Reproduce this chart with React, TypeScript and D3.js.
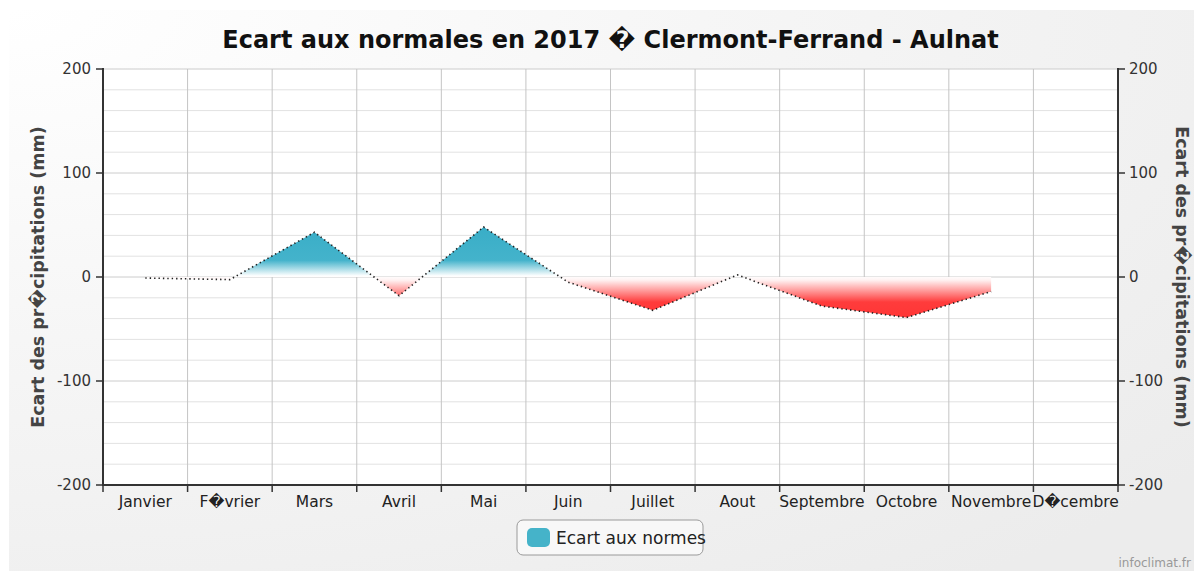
import React from "react";
import * as d3 from "d3";

const months = ["Janvier", "F\uFFFDvrier", "Mars", "Avril", "Mai", "Juin", "Juillet", "Aout", "Septembre", "Octobre", "Novembre", "D\uFFFDcembre"];
const ecart: (number | null)[] = [-1, -2.5, 43, -18, 48, -5, -32, 2, -28, -39, -14, null];
const yTicks = [-200, -100, 0, 100, 200];
const title = "Ecart aux normales en 2017 \uFFFD Clermont-Ferrand - Aulnat";
const yTitle = "Ecart des pr\uFFFDcipitations (mm)";
const legendLabel = "Ecart aux normes";
const gradientStops: [number, string][] = [
  [50, "#38adc7"],
  [16, "#44b3cb"],
  [1, "#ffffff"],
  [-3, "#fff2f2"],
  [-24, "#ff3c3c"],
  [-50, "#ff3030"],
];

const W = 1194, H = 571;
const L = 103, R = 1118, T = 69, B = 485;
const FONT = "DejaVu Sans, Verdana, sans-serif";

export default function App() {
  const x = d3.scaleBand<string>().domain(months).range([L, R]).padding(0);
  const y = d3.scaleLinear().domain([-200, 200]).range([B, T]);
  const cx = (m: string) => (x(m) as number) + x.bandwidth() / 2;
  const pts = months.map((m, i) => ({ m, v: ecart[i] })).filter((d) => d.v !== null) as { m: string; v: number }[];
  const line = d3.line<{ m: string; v: number }>().x((d) => cx(d.m)).y((d) => y(d.v));
  const area = d3.area<{ m: string; v: number }>().x((d) => cx(d.m)).y0(y(0)).y1((d) => y(d.v));
  const minorTicks = d3.range(-200, 201, 20);
  const gTop = y(gradientStops[0][0]);
  const gBot = y(gradientStops[gradientStops.length - 1][0]);

  return (
    <svg width={W} height={H} style={{ display: "block", position: "absolute", left: 0, top: 0 }}>
      <defs>
        <radialGradient id="bg" cx="0" cy="0" r="1.3" gradientUnits="objectBoundingBox">
          <stop offset="0" stopColor="#ffffff" />
          <stop offset="0.45" stopColor="#f6f6f6" />
          <stop offset="1" stopColor="#ececec" />
        </radialGradient>
        <linearGradient id="fillGrad" gradientUnits="userSpaceOnUse" x1={0} x2={0} y1={gTop} y2={gBot}>
          {gradientStops.map(([v, c], i) => (
            <stop key={i} offset={(y(v) - gTop) / (gBot - gTop)} stopColor={c} />
          ))}
        </linearGradient>
      </defs>
      <rect x={0} y={0} width={W} height={H} fill="#ffffff" />
      <rect x={9} y={10} width={W - 9} height={H - 10} fill="url(#bg)" />
      <text x={(L + R) / 2} y={48} textAnchor="middle" fontFamily={FONT} fontWeight="bold" fontSize={24} fill="#111">
        {title}
      </text>
      <rect x={L} y={T} width={R - L} height={B - T} fill="#ffffff" />
      {minorTicks.map((t) => (
        <line key={"h" + t} x1={L} x2={R} y1={y(t)} y2={y(t)} stroke={t % 100 === 0 ? "#cccccc" : "#e2e2e2"} strokeWidth={1} />
      ))}
      {months.map((m) => (
        <line key={"v" + m} x1={x(m) as number} x2={x(m) as number} y1={T} y2={B} stroke="#c4c4c4" strokeWidth={1} />
      ))}
      <path d={area(pts) || ""} fill="url(#fillGrad)" stroke="none" />
      <path d={line(pts) || ""} fill="none" stroke="#222" strokeWidth={1.6} strokeDasharray="1.4,3" />
      {/* axes */}
      <line x1={L} x2={L} y1={T - 1} y2={B + 1} stroke="#333" strokeWidth={2} />
      <line x1={R} x2={R} y1={T - 1} y2={B + 1} stroke="#333" strokeWidth={2} />
      <line x1={L} x2={R} y1={B} y2={B} stroke="#333" strokeWidth={2} />
      {yTicks.map((t) => (
        <g key={"yt" + t}>
          <line x1={L - 7} x2={L} y1={y(t)} y2={y(t)} stroke="#333" strokeWidth={1.5} />
          <line x1={R} x2={R + 7} y1={y(t)} y2={y(t)} stroke="#333" strokeWidth={1.5} />
          <text x={L - 12} y={y(t) + 5} textAnchor="end" fontFamily={FONT} fontSize={15} fill="#333">{t}</text>
          <text x={R + 11} y={y(t) + 5} textAnchor="start" fontFamily={FONT} fontSize={15} fill="#333">{t}</text>
        </g>
      ))}
      {months.map((m) => (
        <g key={"xt" + m}>
          <line x1={x(m) as number} x2={x(m) as number} y1={B} y2={B + 7} stroke="#333" strokeWidth={1.5} />
          <text x={cx(m)} y={B + 22} textAnchor="middle" fontFamily={FONT} fontSize={15.5} fill="#222">{m}</text>
        </g>
      ))}
      <line x1={R} x2={R} y1={B} y2={B + 7} stroke="#333" strokeWidth={1.5} />
      <text transform={`translate(44,${(T + B) / 2}) rotate(-90)`} textAnchor="middle" fontFamily={FONT} fontWeight="bold" fontSize={17.5} fill="#444">
        {yTitle}
      </text>
      <text transform={`translate(1176,${(T + B) / 2}) rotate(90)`} textAnchor="middle" fontFamily={FONT} fontWeight="bold" fontSize={17.5} fill="#444">
        {yTitle}
      </text>
      {/* legend */}
      <rect x={517} y={520} width={186} height={35} rx={6} fill="#f8f8f8" stroke="#9a9a9a" strokeWidth={1} />
      <rect x={527} y={528} width={23} height={19} rx={5} fill="#45b3c9" />
      <text x={556} y={544} fontFamily={FONT} fontSize={17} fill="#222">{legendLabel}</text>
      <text x={1191} y={567} textAnchor="end" fontFamily={FONT} fontSize={12} fill="#999">infoclimat.fr</text>
    </svg>
  );
}
